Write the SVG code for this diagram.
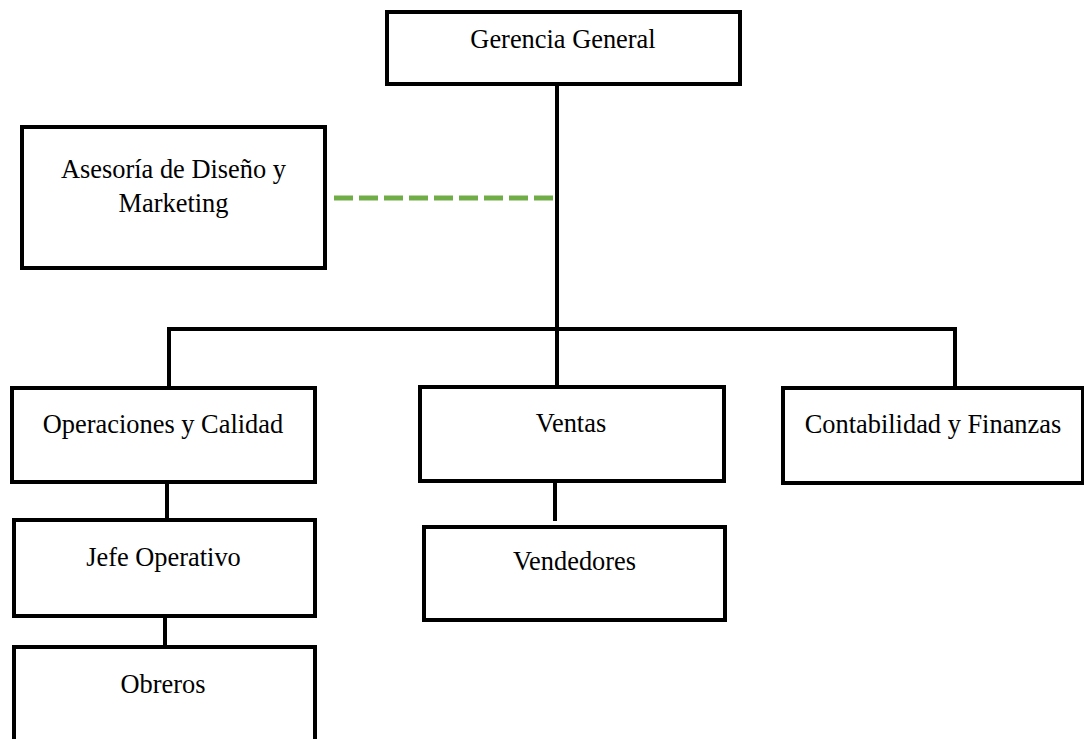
<svg xmlns="http://www.w3.org/2000/svg" width="1084" height="739" viewBox="0 0 1084 739">
  <style>
    .box { fill: #ffffff; stroke: #000000; stroke-width: 4; }
    .lbl { font-family: "Liberation Serif", "Times New Roman", serif; font-size: 26.4px; fill: #000000; text-anchor: middle; }
    .conn { fill: none; stroke: #000000; stroke-width: 4; }
    .dash { fill: none; stroke: #70AD47; stroke-width: 5; stroke-dasharray: 19 6; }
  </style>
  <rect width="1084" height="739" fill="#ffffff"/>
  <g id="connectors">
    <path class="conn" d="M557 84 V391"/>
    <path class="conn" d="M169 388 V329 H955 V388"/>
    <path class="conn" d="M167 482 V520"/>
    <path class="conn" d="M165 616 V647"/>
    <path class="conn" d="M555 481 V521"/>
    <path class="dash" d="M334 198 H553"/>
  </g>
  <g id="gerencia-general">
    <rect class="box" x="387" y="12" width="353" height="72"/>
    <text class="lbl" x="563" y="48">Gerencia General</text>
  </g>
  <g id="asesoria">
    <rect class="box" x="22" y="127" width="303" height="141"/>
    <text class="lbl" x="173.5" y="178">Asesoría de Diseño y</text>
    <text class="lbl" x="173.5" y="212">Marketing</text>
  </g>
  <g id="operaciones">
    <rect class="box" x="12" y="388" width="303" height="94"/>
    <text class="lbl" x="163" y="433">Operaciones y Calidad</text>
  </g>
  <g id="ventas">
    <rect class="box" x="420" y="387" width="304" height="94"/>
    <text class="lbl" x="571" y="432">Ventas</text>
  </g>
  <g id="contabilidad">
    <rect class="box" x="783" y="388" width="300" height="95"/>
    <text class="lbl" x="933" y="433">Contabilidad y Finanzas</text>
  </g>
  <g id="jefe-operativo">
    <rect class="box" x="14" y="520" width="301" height="96"/>
    <text class="lbl" x="163.5" y="566">Jefe Operativo</text>
  </g>
  <g id="obreros">
    <rect class="box" x="14" y="647" width="301" height="100"/>
    <text class="lbl" x="163" y="693">Obreros</text>
  </g>
  <g id="vendedores">
    <rect class="box" x="424" y="527" width="301" height="93"/>
    <text class="lbl" x="574.5" y="570">Vendedores</text>
  </g>
</svg>
